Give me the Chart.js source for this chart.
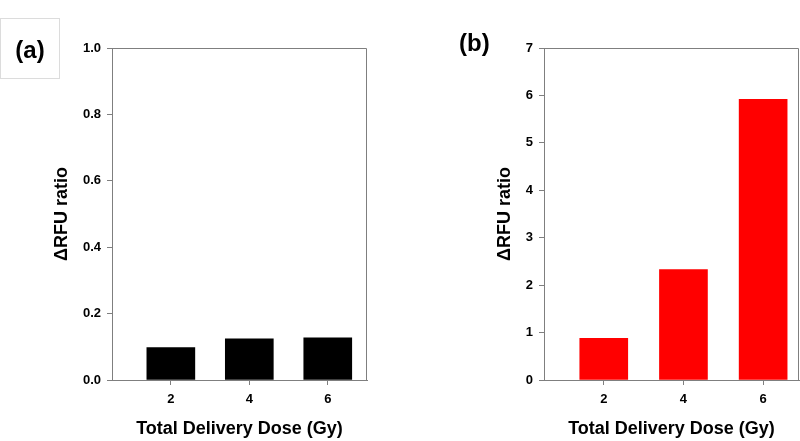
<!DOCTYPE html>
<html>
<head>
<meta charset="utf-8">
<script src="https://cdn.jsdelivr.net/npm/chart.js@4.4.0/dist/chart.umd.min.js"></script>
<style>
  body { margin: 0; background: #fff; width: 800px; height: 441px; position: relative; overflow: hidden; font-family: "Liberation Sans", Arial, sans-serif; }
  .panel { position: absolute; top: 0; width: 400px; height: 441px; }
  .tag { position: absolute; font-weight: bold; font-size: 24px; color: #000; }
  #tagA { left: 0; top: 18px; width: 60px; height: 61px; border: 1px solid #dcdcdc; box-sizing: border-box; line-height: 61px; text-align: center; }
  #tagB { left: 459px; top: 29px; }
</style>
</head>
<body>
<div class="panel" style="left:0"><canvas id="chartA" width="400" height="441"></canvas></div>
<div class="panel" style="left:400px"><canvas id="chartB" width="400" height="441"></canvas></div>
<div class="tag" id="tagA">(a)</div>
<div class="tag" id="tagB">(b)</div>
<script>
const doses = [2, 4, 6];
const xTicks = [2, 4, 6];
const ratioA = [0.098, 0.124, 0.127];
const ratioB = [0.88, 2.33, 5.92];
const yTicksA = [0, 0.2, 0.4, 0.6, 0.8, 1.0];
const yTicksB = [0, 1, 2, 3, 4, 5, 6, 7];

const axisColor = '#7f7f7f';
const tickFont = { family: 'Liberation Sans', size: 13, weight: 'bold' };
const titleFont = { family: 'Liberation Sans', size: 18, weight: 'bold' };

// box around the plot area (top and right lines)
const frame = {
    id: 'frame',
    afterDraw(chart) {
        const { ctx, chartArea: a } = chart;
        ctx.save();
        ctx.strokeStyle = axisColor;
        ctx.lineWidth = 1;
        ctx.beginPath();
        ctx.moveTo(a.left, a.top + 0.5);
        ctx.lineTo(a.right - 0.5, a.top + 0.5);
        ctx.lineTo(a.right - 0.5, a.bottom);
        ctx.stroke();
        ctx.restore();
    }
};

function makeChart(id, values, color, yTicks, yMax, decimals, xMax, yWidth, titlePad, padRight) {
    return new Chart(document.getElementById(id), {
        type: 'bar',
        data: {
            datasets: [{
                data: doses.map((d, i) => ({ x: d, y: values[i] })),
                backgroundColor: color,
                borderWidth: 0,
                barThickness: 48
            }]
        },
        options: {
            responsive: false,
            animation: false,
            plugins: { legend: { display: false }, tooltip: { enabled: false } },
            layout: { padding: { top: 48, right: padRight, left: 0, bottom: 0 } },
            scales: {
                x: {
                    type: 'linear',
                    min: 0.5,
                    max: xMax,
                    offset: false,
                    afterBuildTicks(scale) { scale.ticks = xTicks.map(v => ({ value: v })); },
                    afterFit(scale) { scale.height = 61; },
                    grid: { offset: false, drawOnChartArea: false, drawTicks: true, tickLength: 5, color: axisColor },
                    border: { color: axisColor, width: 1 },
                    ticks: { color: '#000', font: tickFont, padding: 7 },
                    title: { display: true, text: 'Total Delivery Dose (Gy)', color: '#000', font: titleFont, padding: { top: 0, bottom: 1 } }
                },
                y: {
                    min: 0,
                    max: yMax,
                    afterBuildTicks(scale) { scale.ticks = yTicks.map(v => ({ value: v })); },
                    afterFit(scale) { scale.width = yWidth; },
                    grid: { drawOnChartArea: false, drawTicks: true, tickLength: 5, color: axisColor },
                    border: { color: axisColor, width: 1 },
                    ticks: { color: '#000', font: tickFont, padding: 6, callback: v => v.toFixed(decimals) },
                    title: { display: true, text: 'ΔRFU ratio', color: '#000', font: titleFont, padding: { top: titlePad, bottom: 0 } }
                }
            }
        },
        plugins: [frame]
    });
}

makeChart('chartA', ratioA, '#000000', yTicksA, 1, 1, 7, 112, 51, 33);
makeChart('chartB', ratioB, '#ff0000', yTicksB, 7, 0, 6.9, 144, 94, 1);
</script>
</body>
</html>
